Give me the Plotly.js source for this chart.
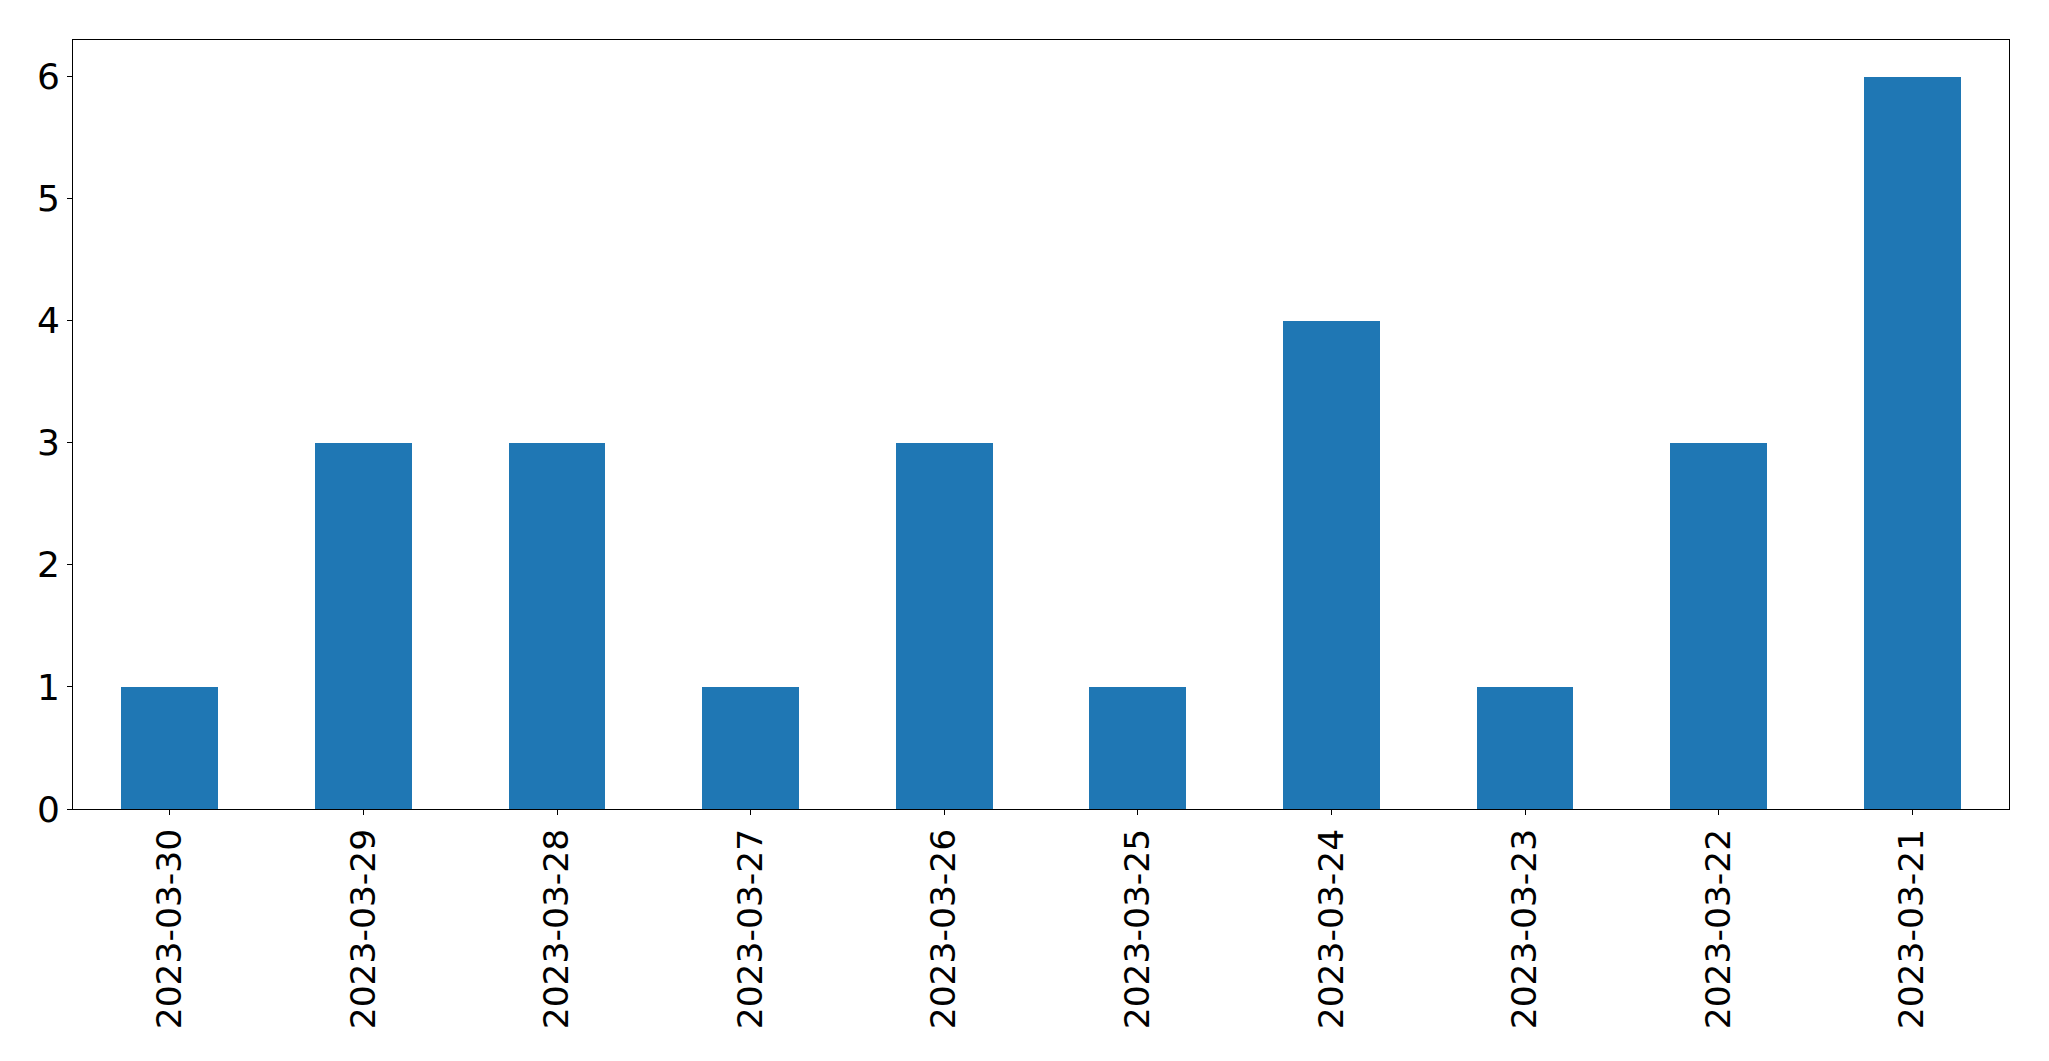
<!DOCTYPE html>
<html>
<head>
<meta charset="utf-8">
<script src="https://cdn.plot.ly/plotly-3.0.1.min.js"></script>
<style>html,body{margin:0;padding:0;background:#fff;}#chart{width:2049px;height:1061px;}</style>
</head>
<body>
<div id="chart"></div>
<script>
const dates = ["2023-03-30","2023-03-29","2023-03-28","2023-03-27","2023-03-26","2023-03-25","2023-03-24","2023-03-23","2023-03-22","2023-03-21"];
const counts = [1,3,3,1,3,1,4,1,3,6];
const yTicks = [0,1,2,3,4,5,6];

const trace = {
  type: 'bar',
  x: dates,
  y: counts,
  width: 0.5,
  marker: {color: '#1f77b4', line: {width: 0}},
  hoverinfo: 'x+y'
};

const xfont = {family: 'DejaVu Sans, sans-serif', size: 34.5, color: '#000'};
const yfont = {family: 'DejaVu Sans, sans-serif', size: 36, color: '#000'};

const layout = {
  width: 2049,
  height: 1061,
  margin: {l: 72.5, r: 39.7, t: 39.5, b: 252},
  paper_bgcolor: '#fff',
  plot_bgcolor: '#fff',
  showlegend: false,
  bargap: 0,
  xaxis: {
    type: 'category',
    range: [-0.5, 9.5],
    tickangle: -90,
    ticks: 'outside',
    ticklen: 5,
    tickwidth: 1,
    tickcolor: '#000',
    showline: true,
    linecolor: '#000',
    linewidth: 1,
    mirror: true,
    showgrid: false,
    zeroline: false,
    tickfont: xfont,
    ticklabelstandoff: 0
  },
  yaxis: {
    range: [0, 6.3],
    tickvals: yTicks,
    ticktext: yTicks.map(String),
    ticks: 'outside',
    ticklen: 5,
    tickwidth: 1,
    tickcolor: '#000',
    showline: true,
    linecolor: '#000',
    linewidth: 1,
    mirror: true,
    showgrid: false,
    zeroline: false,
    tickfont: yfont,
    ticklabelstandoff: 0
  }
};

Plotly.newPlot('chart', [trace], layout, {displayModeBar: false, staticPlot: true});
</script>
</body>
</html>
